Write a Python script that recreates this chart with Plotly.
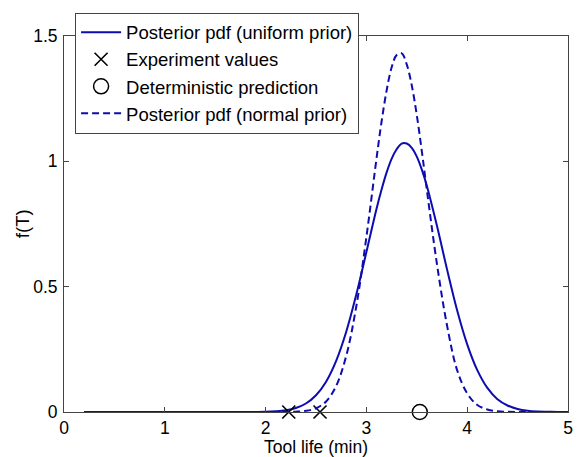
import plotly.graph_objects as go

t_grid = [0.2, 0.5, 1.0, 1.5, 1.8, 2.0, 2.1, 2.2, 2.3, 2.4, 2.5, 2.6, 2.7, 2.8, 2.9,
          3.0, 3.1, 3.15, 3.2, 3.25, 3.3, 3.35, 3.4, 3.45, 3.5, 3.55, 3.6, 3.7, 3.8,
          3.9, 4.0, 4.1, 4.2, 4.3, 4.4, 4.5, 4.6, 4.7, 4.8, 4.9, 5.0]
pdf_uniform = [0.0, 0.0, 0.0, 0.0, 0.0, 0.001, 0.003, 0.007, 0.016, 0.034, 0.067, 0.121,
               0.204, 0.320, 0.469, 0.638, 0.810, 0.887, 0.955, 1.010, 1.048, 1.071,
               1.071, 1.054, 1.019, 0.967, 0.902, 0.743, 0.569, 0.406, 0.270, 0.167,
               0.096, 0.051, 0.026, 0.012, 0.005, 0.002, 0.001, 0.0, 0.0]
pdf_normal = [0.0, 0.0, 0.0, 0.0, 0.0, 0.0, 0.0, 0.0003, 0.0013, 0.0047, 0.015, 0.042,
              0.104, 0.224, 0.422, 0.698, 1.010, 1.157, 1.281, 1.374, 1.424, 1.431,
              1.387, 1.303, 1.184, 1.040, 0.885, 0.590, 0.345, 0.167, 0.074, 0.028,
              0.010, 0.003, 0.001, 0.0, 0.0, 0.0, 0.0, 0.0, 0.0]
exp_x = [2.23, 2.54]
exp_y = [0.0, 0.0]
det_x = [3.53]
det_y = [0.0]

x_ticks = [0, 1, 2, 3, 4, 5]
y_ticks = [0, 0.5, 1, 1.5]
y_tick_text = ["0", "0.5", "1", "1.5"]
x_title = "Tool life (min)"
y_title = "f(T)"

blue = "#0c0cb0"
font_family = "Liberation Sans, Arial, sans-serif"

fig = go.Figure()
fig.add_trace(go.Scatter(x=t_grid, y=pdf_uniform, mode="lines", line_shape="spline",
                         name="Posterior pdf (uniform prior)",
                         line=dict(color=blue, width=2), cliponaxis=False))
fig.add_trace(go.Scatter(x=exp_x, y=exp_y, mode="markers", name="Experiment values",
                         marker=dict(symbol="x-thin-open", size=13, color="black",
                                     line=dict(color="black", width=1.6)),
                         cliponaxis=False))
fig.add_trace(go.Scatter(x=det_x, y=det_y, mode="markers", name="Deterministic prediction",
                         marker=dict(symbol="circle-open", size=15, color="black",
                                     line=dict(color="black", width=1.5)),
                         cliponaxis=False))
fig.add_trace(go.Scatter(x=t_grid, y=pdf_normal, mode="lines", line_shape="spline",
                         name="Posterior pdf (normal prior)",
                         line=dict(color=blue, width=2, dash="7px,4px"), cliponaxis=False))

axis_common = dict(showgrid=False, zeroline=False, showline=True, linecolor="#444",
                   linewidth=1, mirror="ticks", ticks="inside", ticklen=5, automargin=False,
                   tickcolor="#444", tickfont=dict(size=17.5, color="black", family=font_family))

fig.update_layout(
    width=577, height=457,
    margin=dict(l=64, r=9, t=36, b=45),
    paper_bgcolor="white", plot_bgcolor="white",
    font=dict(family=font_family, color="black"),
    xaxis=dict(range=[0, 5], tickvals=x_ticks, ticklabelstandoff=0, **axis_common),
    yaxis=dict(range=[0, 1.5], tickvals=y_ticks, ticktext=y_tick_text, ticklabelstandoff=2,
               **axis_common),
    legend=dict(x=0.022, y=1.062, xanchor="left", yanchor="top",
                bgcolor="white", bordercolor="#444", borderwidth=1,
                font=dict(size=18.5, family=font_family), tracegroupgap=0,
                itemwidth=40),
    showlegend=True,
    annotations=[
        dict(text=x_title, xref="paper", yref="paper", x=0.5, y=-0.094,
             xanchor="center", yanchor="middle", showarrow=False,
             font=dict(size=17.5, family=font_family, color="black")),
        dict(text=y_title, xref="paper", yref="paper", x=-0.083, y=0.5,
             xanchor="center", yanchor="middle", showarrow=False, textangle=-90,
             font=dict(size=18.5, family=font_family, color="black")),
    ],
)

fig.write_html("out.html")
